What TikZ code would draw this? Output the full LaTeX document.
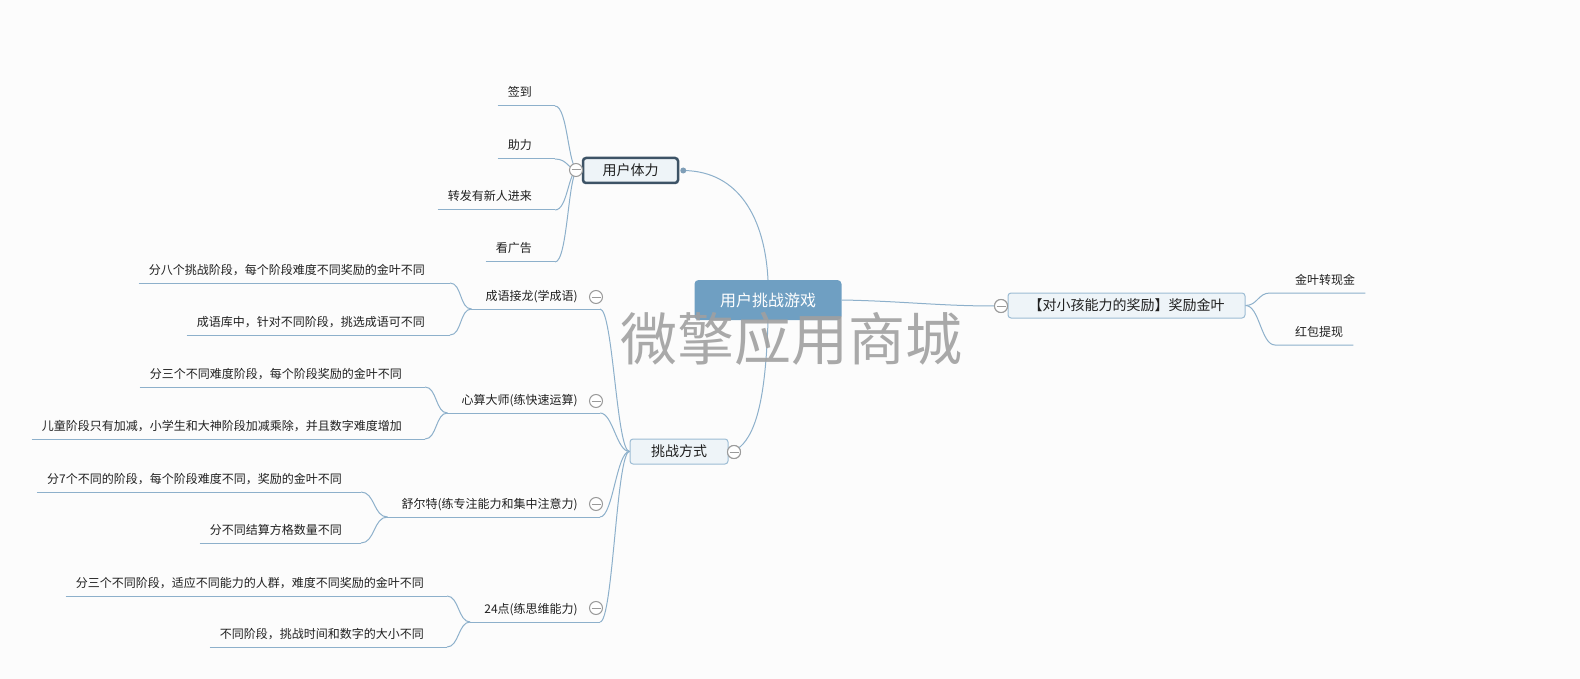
\documentclass[tikz,border=0pt]{standalone}
\usepackage{fontspec}
\setmainfont{Noto Sans CJK SC}
\usetikzlibrary{calc}
\definecolor{ln}{HTML}{8DB0CB}
\definecolor{rootc}{HTML}{6F9FC2}
\definecolor{boxf}{HTML}{EEF4F8}
\definecolor{boxd}{HTML}{3D5366}
\definecolor{boxl}{HTML}{9CBCD4}
\definecolor{btn}{HTML}{9A9A9A}
\definecolor{wm}{HTML}{A0A0A0}
\definecolor{bg}{HTML}{FCFCFC}
\definecolor{txt}{HTML}{202020}
\tikzset{
 conn/.style={draw=ln, line width=1pt},
 lt/.style={inner sep=0pt, anchor=base east, font=\fontsize{12}{14}\selectfont, text=txt},
 rt/.style={inner sep=0pt, anchor=base west, font=\fontsize{12}{14}\selectfont, text=txt},
 rootbox/.style={fill=rootc, rounded corners=4pt, text=white, minimum width=147pt, minimum height=40pt, inner sep=0pt, font=\fontsize{16}{18}\selectfont},
 thickbox/.style={fill=boxf, draw=boxd, line width=2.5pt, rounded corners=3pt, minimum width=95pt, minimum height=25pt, inner sep=0pt, font=\fontsize{14}{16}\selectfont, text=txt},
 thinbox/.style={fill=boxf, draw=boxl, line width=1pt, rounded corners=3pt, minimum height=25pt, inner sep=0pt, font=\fontsize{14}{16}\selectfont, text=txt},
 btnc/.style={circle, draw=btn, fill=white, line width=1pt, minimum size=13pt, inner sep=0pt,
   path picture={\draw[btn, line width=1pt] ([xshift=-4.5pt]path picture bounding box.center) -- ([xshift=4.5pt]path picture bounding box.center);}},
}
% #1 name, #2 right end x, #3 underline y, #4 gap text->right end, #5 text
\newcommand\mmleaf[5]{%
 \coordinate (#1-r) at (#2,#3);
 \node[lt] (#1) at (#2-#4,#3-9) {#5};
 \coordinate (#1-l) at ($(#1.west |- #1-r)+(-10,0)$);
 \draw[conn] (#1-l) -- (#1-r);
}
% #1 name, #2 text base east x, #3 underline y, #4 text
\newcommand\mmsub[4]{%
 \coordinate (#1-r) at (600,#3);
 \node[lt] (#1) at (#2,#3-9) {#4};
 \coordinate (#1-l) at ($(#1.west |- #1-r)+(-14,0)$);
 \draw[conn] (#1-l) -- (#1-r);
}
\begin{document}
\begin{tikzpicture}[x=1pt,y=-1pt]
\fill[bg] (0,0) rectangle (1580,679);
\useasboundingbox (0,0) rectangle (1580,679);

% main nodes
\node[rootbox] (root) at (768,300) {用户挑战游戏};
\node[thickbox] (tl) at (630.5,170.5) {用户体力};
\node[thinbox, minimum width=98pt] (tz) at (679,451.5) {挑战方式};
\node[thinbox, minimum width=237pt] (jl) at (1126.5,305.5) {【对小孩能力的奖励】奖励金叶};
\coordinate (tldot) at ($(tl.east)+(4,0)$);

% 用户体力 children
\mmleaf{qd}{555}{106}{23}{签到}
\mmleaf{zl}{555}{159}{23}{助力}
\mmleaf{zf}{555}{210}{23}{转发有新人进来}
\mmleaf{kg}{555}{262}{23}{看广告}
\coordinate (tlin) at (578,170);
\foreach \n in {qd,zl,zf,kg}{
  \draw[conn] (\n-r) .. controls +(13,0) and +(-10,0) .. (tlin);
}

% 挑战方式 subtopics
\mmsub{cy}{578}{309}{成语接龙(学成语)}
\mmsub{xs}{578}{413}{心算大师(练快速运算)}
\mmsub{se}{578}{517}{舒尔特(练专注能力和集中注意力)}
\mmsub{ed}{578}{622}{24点(练思维能力)}
\foreach \n in {cy,xs,se,ed}{
  \draw[conn] (\n-r) .. controls +(13,0) and +(-13,0) .. (tz.west);
}

% leaves of subtopics
\mmleaf{cy1}{450}{283}{25}{分八个挑战阶段，每个阶段难度不同奖励的金叶不同}
\mmleaf{cy2}{450}{335}{25}{成语库中，针对不同阶段，挑选成语可不同}
\mmleaf{xs1}{425}{387}{23}{分三个不同难度阶段，每个阶段奖励的金叶不同}
\mmleaf{xs2}{425}{439}{23}{儿童阶段只有加减，小学生和大神阶段加减乘除，并且数字难度增加}
\mmleaf{se1}{361}{492}{19}{分7个不同的阶段，每个阶段难度不同，奖励的金叶不同}
\mmleaf{se2}{361}{543}{19}{分不同结算方格数量不同}
\mmleaf{ed1}{447}{596}{23}{分三个不同阶段，适应不同能力的人群，难度不同奖励的金叶不同}
\mmleaf{ed2}{447}{647}{23}{不同阶段，挑战时间和数字的大小不同}
\draw[conn] (cy1-r) .. controls +(12,0) and +(-12,0) .. (cy-l);
\draw[conn] (cy2-r) .. controls +(12,0) and +(-12,0) .. (cy-l);
\draw[conn] (xs1-r) .. controls +(12,0) and +(-12,0) .. (xs-l);
\draw[conn] (xs2-r) .. controls +(12,0) and +(-12,0) .. (xs-l);
\draw[conn] (se1-r) .. controls +(14,0) and +(-14,0) .. (se-l);
\draw[conn] (se2-r) .. controls +(14,0) and +(-14,0) .. (se-l);
\draw[conn] (ed1-r) .. controls +(12,0) and +(-12,0) .. (ed-l);
\draw[conn] (ed2-r) .. controls +(12,0) and +(-12,0) .. (ed-l);

% reward children
\node[rt] (jx) at (1295,284) {金叶转现金};
\node[rt] (hb) at (1295,336) {红包提现};
\coordinate (jx-l) at (1270,293);
\coordinate (hb-l) at (1275,345);
\coordinate (jx-r) at ($(jx.east |- jx-l)+(10,0)$);
\coordinate (hb-r) at ($(hb.east |- hb-l)+(10,0)$);
\draw[conn] (jl.east) .. controls +(12,0) and +(-12,0) .. (jx-l) -- (jx-r);
\draw[conn] (jl.east) .. controls +(14,0) and +(-14,0) .. (hb-l) -- (hb-r);

% buttons
\node[btnc] (tlb) at (576,170) {};
\node[btnc] (cyb) at (596,297) {};
\node[btnc] (xsb) at (596,401) {};
\node[btnc] (seb) at (596,504) {};
\node[btnc] (edb) at (596,608) {};
\node[btnc] (tzb) at (734,452) {};
\node[btnc] (jlb) at (1001,306) {};

% root connectors
\draw[conn] (tldot) .. controls (740,171) and (765,220) .. (root.north);
\draw[conn] (root.south) .. controls (766,390) and (758,432) .. (tzb);
\draw[conn] (root.east) .. controls (900,301) and (940,306) .. (jlb.west);
\fill[ln!90!black] (tldot) circle (3pt);
\node[btnc] at (tzb) {};
\node[btnc] at (jlb) {};

% watermark
\node[font=\fontsize{57}{60}\selectfont, text=wm, opacity=0.9, inner sep=0pt] (wmk) at (791,339) {微擎应用商城};
\end{tikzpicture}
\end{document}
